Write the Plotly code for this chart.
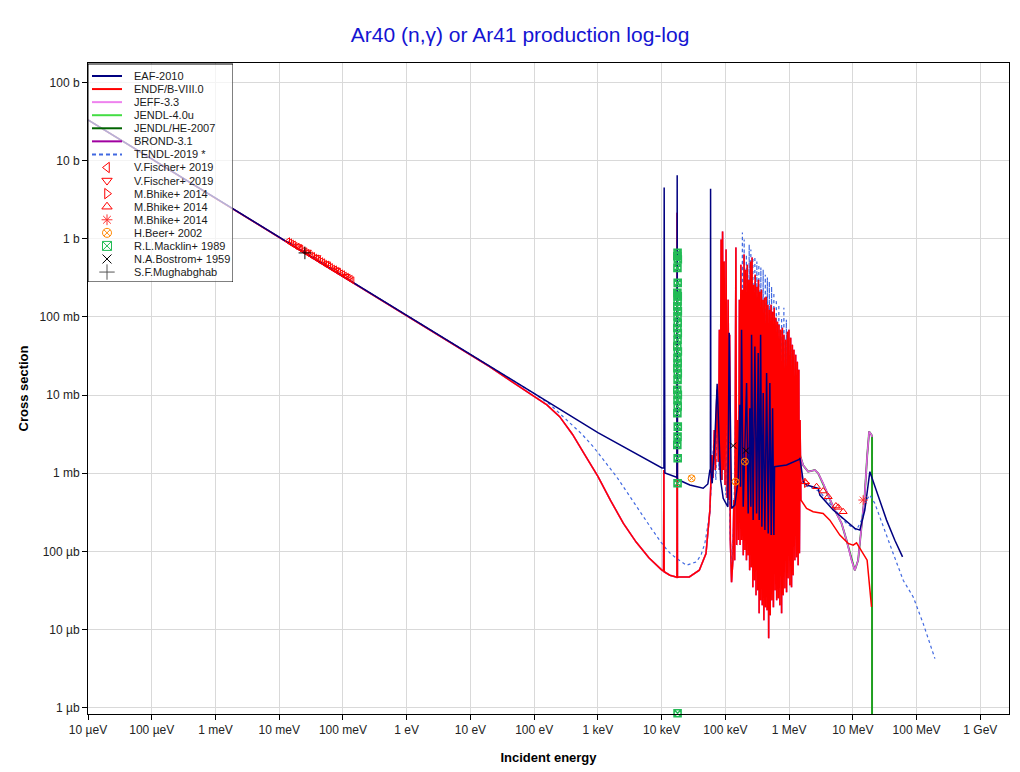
import plotly.graph_objects as go

# ---------------- data (log10 E [eV], log10 sigma [b]) ----------------
eaf_points = [
    (-5, 1.521), (3, -2.479), (4.004, -2.932), (4.036, -2.93), (4.040, 0.658), (4.044, -2.95),
    (4.051, -2.996), (4.224, -3.047), (4.240, -3.05), (4.244, 0.815), (4.248, -3.07), (4.271, -3.086),
    (4.443, -3.150), (4.652, -3.192), (4.725, -3.137), (4.757, -2.958), (4.765, -2.95), (4.768, 0.641),
    (4.772, -2.96), (4.793, -3.128), (4.835, -2.573), (4.871, -1.855), (4.898, -2.573), (4.925, -3.086),
    (4.966, -3.321), (5.039, -3.429), (5.060, -1.201), (5.098, -3.449), (5.149, -3.406), (5.201, -3.086),
    (5.227, -2.124), (5.238, -3.172), (5.254, -1.163), (5.280, -3.429), (5.333, -1.846), (5.358, -3.513),
    (5.384, -2.167), (5.400, -3.429), (5.411, -1.227), (5.436, -3.599), (5.463, -1.377), (5.490, -3.513),
    (5.515, -1.462), (5.531, -3.599), (5.553, -1.227), (5.573, -3.685), (5.594, -1.974), (5.620, -3.727),
    (5.647, -1.718), (5.672, -3.769), (5.698, -1.846), (5.719, -3.791), (5.741, -2.167), (5.761, -3.791),
    (5.772, -2.915), (5.960, -2.894), (6.158, -2.821), (6.169, -2.804), (6.222, -3.108), (6.275, -3.151),
    (6.457, -3.192), (6.483, -3.278), (6.692, -3.470), (6.902, -3.620), (7.031, -3.705), (7.110, -3.727),
    (7.188, -3.470), (7.267, -2.979), (7.372, -3.236), (7.529, -3.599), (7.659, -3.856), (7.780, -4.070),
]

endf_low = [
    (-5, 1.521), (1.0, -1.479), (1.3, -1.636), (1.568, -1.782), (1.8, -1.91), (2.0, -2.025),
    (2.2, -2.125), (2.4, -2.275), (2.6, -2.50), (2.8, -2.77), (3.0, -3.04), (3.2, -3.35), (3.4, -3.64),
    (3.6, -3.88), (3.8, -4.08), (3.999, -4.235),
    (4.030, -4.25), (4.035, -2.958), (4.040, -4.26), (4.129, -4.304), (4.234, -4.326), (4.240, -4.33),
    (4.244, 0.333), (4.248, -4.33), (4.277, -4.326), (4.434, -4.326), (4.591, -4.240), (4.696, -4.026),
]

endf_resonances = [
    (4.757, -3.471), (4.773, -2.958), (4.788, -2.765), (4.804, -3.060), (4.827, -2.445), (4.843, -2.958),
    (4.867, -1.932), (4.890, -2.855), (4.906, -1.163), (4.918, -2.958), (4.933, -0.009), (4.945, -3.086),
    (4.956, 0.094), (4.969, -2.958), (4.981, -0.291), (4.995, -3.150), (5.011, -0.137), (5.028, -3.317),
    (5.044, -0.778), (5.060, -3.342), (5.067, -1.227), (5.078, -3.855), (5.097, -4.394), (5.118, -4.112),
    (5.133, -3.342), (5.146, -4.112), (5.165, -0.112), (5.177, -3.919), (5.193, -2.317), (5.205, -3.855),
    (5.220, -0.778), (5.231, -3.919), (5.243, -0.330), (5.256, -3.855), (5.268, -0.650), (5.281, -4.048),
    (5.293, -0.201), (5.306, -3.983), (5.318, -0.394), (5.331, -4.112), (5.344, -0.330), (5.356, -4.048),
    (5.369, -0.522), (5.381, -4.240), (5.394, -0.291), (5.406, -4.201), (5.419, -0.240), (5.431, -4.458),
    (5.444, -0.586), (5.456, -4.368), (5.469, -0.458), (5.481, -4.560), (5.494, -0.612), (5.507, -4.496),
    (5.519, -0.522), (5.530, -4.791), (5.541, -0.676), (5.554, -4.624), (5.566, -0.650), (5.579, -4.689),
    (5.591, -0.778), (5.604, -4.881), (5.616, -0.753), (5.629, -4.714), (5.642, -0.740), (5.654, -4.753),
    (5.667, -0.842), (5.679, -5.111), (5.692, -0.906), (5.704, -4.817), (5.717, -0.842), (5.729, -4.624),
    (5.742, -0.932), (5.754, -4.714), (5.767, -0.881), (5.780, -4.496), (5.792, -1.009), (5.805, -4.624),
    (5.817, -1.061), (5.830, -4.599), (5.842, -1.099), (5.855, -4.689), (5.867, -1.163), (5.882, -4.791),
    (5.894, -1.138), (5.907, -4.560), (5.919, -1.227), (5.933, -4.470), (5.946, -1.291), (5.960, -4.522),
    (5.973, -1.189), (5.985, -4.342), (5.998, -1.163), (6.012, -4.432), (6.024, -1.266), (6.038, -4.458),
    (6.051, -1.355), (6.063, -4.304), (6.076, -1.419), (6.090, -4.112), (6.103, -1.483), (6.117, -4.073),
    (6.129, -1.573), (6.142, -4.176), (6.153, -1.676), (6.162, -4.022), (6.172, -2.317), (6.185, -3.342),
]

endf_high = [
    (6.274, -3.449), (6.377, -3.492), (6.534, -3.513), (6.639, -3.599), (6.796, -3.791), (6.926, -3.897),
    (7.005, -3.919), (7.058, -3.890), (7.110, -3.962), (7.188, -4.069), (7.224, -4.112), (7.293, -4.710),
]

jeff_high = [
    (6.169, -2.765), (6.222, -2.90), (6.299, -2.979), (6.404, -2.958), (6.456, -3.000), (6.534, -3.128),
    (6.588, -3.236), (6.691, -3.428), (6.823, -3.641), (6.901, -3.855), (6.980, -4.112), (7.031, -4.240),
    (7.083, -4.112), (7.136, -3.685), (7.188, -3.256), (7.224, -2.787), (7.256, -2.467), (7.293, -2.509),
    (7.301, -2.535),
]

jendl_end = [(7.3012, -10.0)]

tendl_points = [
    (-5, 1.521), (2.0, -1.979), (2.25, -2.12), (2.510, -2.317), (2.75, -2.50), (2.926, -2.659),
    (3.1, -2.84), (3.293, -3.044), (3.48, -3.27), (3.659, -3.49), (3.85, -3.72), (4.024, -3.92),
    (4.13, -4.02), (4.235, -4.090), (4.391, -4.176), (4.548, -4.133), (4.62, -4.04), (4.678, -3.897),
    (4.757, -3.509), (4.788, -2.958), (4.820, -2.573), (4.851, -3.086), (4.875, -2.060), (4.898, -2.958),
    (4.929, -0.778), (4.953, -3.086), (4.977, -0.778), (5.008, -3.278), (5.039, -1.291), (5.071, -3.727),
    (5.102, -4.240), (5.133, -3.599), (5.165, -2.060), (5.196, -3.727), (5.227, -1.419), (5.251, -3.727),
    (5.267, 0.081), (5.283, -3.727), (5.295, -0.009), (5.311, -3.727), (5.330, -0.201), (5.345, -3.855),
    (5.374, -0.073), (5.389, -3.855), (5.400, -0.137), (5.416, -3.855), (5.431, -0.240), (5.447, -3.919),
    (5.463, -0.227), (5.478, -3.919), (5.494, -0.291), (5.510, -3.983), (5.525, -0.330), (5.541, -3.983),
    (5.557, -0.368), (5.573, -4.048), (5.593, -0.394), (5.609, -4.048), (5.627, -0.458), (5.643, -4.112),
    (5.659, -0.496), (5.675, -4.112), (5.690, -0.548), (5.706, -4.112), (5.725, -0.612), (5.741, -4.112),
    (5.761, -0.689), (5.776, -4.112), (5.800, -0.778), (5.816, -4.112), (5.839, -0.842), (5.855, -4.112),
    (5.882, -1.009), (5.898, -4.112), (5.918, -0.881), (5.933, -4.112), (5.957, -1.035), (5.973, -4.112),
    (5.996, -1.291), (6.012, -4.048), (6.035, -1.419), (6.051, -3.983), (6.075, -1.547), (6.090, -3.855),
    (6.122, -1.804), (6.137, -3.727), (6.169, -2.855),
    (6.222, -3.150), (6.379, -3.192), (6.482, -3.236), (6.639, -3.385), (6.901, -3.641), (7.058, -3.727),
    (7.136, -3.599), (7.215, -3.342), (7.267, -3.278), (7.345, -3.385), (7.476, -3.685), (7.633, -4.026),
    (7.790, -4.368), (7.947, -4.582), (8.104, -4.923), (8.288, -5.372),
]

fischer_left = [
    (-1.862, -0.030), (-1.830, -0.045), (-1.801, -0.061), (-1.772, -0.072), (-1.745, -0.091), (-1.712, -0.100),
    (-1.680, -0.121), (-1.655, -0.128), (-1.622, -0.150), (-1.590, -0.160), (-1.561, -0.180), (-1.528, -0.193),
    (-1.497, -0.212), (-1.470, -0.219), (-1.436, -0.240), (-1.405, -0.251), (-1.377, -0.272), (-1.342, -0.286),
    (-1.311, -0.300), (-1.283, -0.320), (-1.250, -0.330), (-1.218, -0.350), (-1.190, -0.361), (-1.158, -0.381),
    (-1.126, -0.390), (-1.097, -0.410), (-1.064, -0.422), (-1.033, -0.441), (-1.001, -0.452), (-0.972, -0.471),
    (-0.940, -0.485), (-0.911, -0.500), (-0.880, -0.512), (-0.853, -0.530),
]
fischer_down = [(-1.70, -0.095), (-1.55, -0.165), (-1.40, -0.235), (-1.25, -0.315), (-1.10, -0.395), (-0.95, -0.475)]
bhike_right = [(6.27, -3.13)]
bhike_up = [(6.249, -3.108), (6.431, -3.172), (6.534, -3.227), (6.613, -3.300), (6.734, -3.419),
            (6.770, -3.436), (6.848, -3.492)]
bhike_star = [(7.162, -3.342)]
beer = [(4.470, -3.064), (5.160, -3.108), (5.306, -2.851)]
macklin = [
    (4.250, -0.179), (4.246, -0.223), (4.254, -0.265), (4.248, -0.372), (4.252, -0.564), (4.247, -0.692),
    (4.253, -0.736), (4.250, -0.800), (4.246, -0.864), (4.254, -0.928), (4.249, -0.992), (4.252, -1.077),
    (4.247, -1.141), (4.253, -1.205), (4.250, -1.291), (4.246, -1.377), (4.254, -1.441), (4.249, -1.526),
    (4.252, -1.590), (4.247, -1.654), (4.253, -1.718), (4.250, -1.804), (4.246, -1.932), (4.254, -1.996),
    (4.249, -2.060), (4.252, -2.146), (4.247, -2.231), (4.253, -2.403), (4.250, -2.531), (4.246, -2.637),
    (4.252, -2.808), (4.250, -3.128), (4.250, -6.07),
]
bostrom = [(5.122, -2.646), (5.322, -2.710)]
mughabghab = [(-1.597, -0.180)]

x_tickvals = [1e-5, 1e-4, 1e-3, 1e-2, 1e-1, 1, 10, 100, 1e3, 1e4, 1e5, 1e6, 1e7, 1e8, 1e9]
x_ticktext = ["10 µeV", "100 µeV", "1 meV", "10 meV", "100 meV", "1 eV", "10 eV", "100 eV",
              "1 keV", "10 keV", "100 keV", "1 MeV", "10 MeV", "100 MeV", "1 GeV"]
y_tickvals = [1e-6, 1e-5, 1e-4, 1e-3, 1e-2, 1e-1, 1, 10, 100]
y_ticktext = ["1 µb", "10 µb", "100 µb", "1 mb", "10 mb", "100 mb", "1 b", "10 b", "100 b"]

# legend entries: (label, kind, colour, style)
legend_entries = [
    ("EAF-2010", "line", "#000080", "solid"),
    ("ENDF/B-VIII.0", "line", "#ff0000", "solid"),
    ("JEFF-3.3", "line", "#ee82ee", "solid"),
    ("JENDL-4.0u", "line", "#44dd44", "solid"),
    ("JENDL/HE-2007", "line", "#006400", "solid"),
    ("BROND-3.1", "line", "#a000a0", "solid"),
    ("TENDL-2019 *", "line", "#4169e1", "dash"),
    ("V.Fischer+ 2019", "marker", "#ff0000", "triangle-left-open"),
    ("V.Fischer+ 2019", "marker", "#ff0000", "triangle-down-open"),
    ("M.Bhike+ 2014", "marker", "#ff0000", "triangle-right-open"),
    ("M.Bhike+ 2014", "marker", "#ff0000", "triangle-up-open"),
    ("M.Bhike+ 2014", "marker", "#ff3030", "asterisk-open"),
    ("H.Beer+ 2002", "marker", "#ff8800", "circle-x-open"),
    ("R.L.Macklin+ 1989", "marker", "#22bb55", "square-x-open"),
    ("N.A.Bostrom+ 1959", "marker", "#000000", "x-thin-open"),
    ("S.F.Mughabghab", "marker", "#555555", "cross-thin-open"),
]


def unzip(points):
    return [10 ** p[0] for p in points], [10 ** p[1] for p in points]


FONT = "Liberation Sans, Arial, sans-serif"
fig = go.Figure()


def add_line(points, name, color, width=1.5, dash="solid", opacity=1.0):
    x, y = unzip(points)
    fig.add_trace(go.Scatter(x=x, y=y, mode="lines", name=name, showlegend=False, opacity=opacity,
                             line=dict(color=color, width=width, dash=dash)))


def add_marks(points, name, symbol, color, size=7, cliponaxis=True, lw=1):
    x, y = unzip(points)
    fig.add_trace(go.Scatter(x=x, y=y, mode="markers", name=name, showlegend=False, cliponaxis=cliponaxis,
                             marker=dict(symbol=symbol, size=size, color=color, line=dict(color=color, width=lw))))


jeff_full = endf_low + endf_resonances + jeff_high
add_line(jeff_high + jendl_end, "JENDL-4.0u", "#44dd44", width=2)
add_line(jeff_high + jendl_end, "JENDL/HE-2007", "#006400", width=1)
add_line(jeff_full, "BROND-3.1", "#a000a0")
add_line(jeff_full, "JEFF-3.3", "#ee82ee", opacity=0.8)
add_line(tendl_points, "TENDL-2019 *", "#4169e1", dash="3px,3px", width=1.2)
add_line(endf_low + endf_resonances + endf_high, "ENDF/B-VIII.0", "#ff0000")
add_line(eaf_points, "EAF-2010", "#000080")

add_marks(fischer_left, "V.Fischer+ 2019", "triangle-left-open", "#ff0000", size=6)
add_marks(fischer_down, "V.Fischer+ 2019", "triangle-down-open", "#ff0000", size=6)
add_marks(bhike_right, "M.Bhike+ 2014", "triangle-right-open", "#ff0000")
add_marks(bhike_up, "M.Bhike+ 2014", "triangle-up-open", "#ff0000")
add_marks(bhike_star, "M.Bhike+ 2014", "asterisk-open", "#ff3030", size=8)
add_marks(beer, "H.Beer+ 2002", "circle-x-open", "#ff8800")
add_marks(macklin, "R.L.Macklin+ 1989", "square-x-open", "#22bb55", size=7, cliponaxis=False, lw=1.6)
add_marks(bostrom, "N.A.Bostrom+ 1959", "x-thin-open", "#000000", size=6)
add_marks(mughabghab, "S.F.Mughabghab", "cross-thin-open", "#000000", size=9)

# ---------------- legend panel (drawn on its own small axes, in the reference's pixel frame) ----------------
LEG_X0, LEG_X1, LEG_Y0, LEG_Y1 = 88, 233, 63, 282
fig.add_trace(go.Scatter(x=[LEG_X0, LEG_X1, LEG_X1, LEG_X0, LEG_X0], y=[LEG_Y1, LEG_Y1, LEG_Y0 + 1, LEG_Y0 + 1, LEG_Y1],
                         mode="lines", fill="toself", fillcolor="rgba(255,255,255,0.7)",
                         line=dict(color="#000000", width=1), xaxis="x2", yaxis="y2",
                         showlegend=False, hoverinfo="skip", cliponaxis=False))
annotations = []
for i, (label, kind, color, style) in enumerate(legend_entries):
    cy = 76 + 13.07 * i
    if kind == "line":
        fig.add_trace(go.Scatter(x=[92, 122], y=[cy, cy], mode="lines", xaxis="x2", yaxis="y2",
                                 line=dict(color=color, width=2, dash="4px,3px" if style == "dash" else "solid"),
                                 showlegend=False, hoverinfo="skip"))
    else:
        fig.add_trace(go.Scatter(x=[107], y=[cy], mode="markers", xaxis="x2", yaxis="y2",
                                 marker=dict(symbol=style, size=9 if "cross" not in style else 11, color=color,
                                             line=dict(color=color, width=1)),
                                 showlegend=False, hoverinfo="skip", cliponaxis=False))
    annotations.append(dict(x=132, y=cy, xref="x2", yref="y2", text=label, showarrow=False, xanchor="left",
                            yanchor="middle", font=dict(family=FONT, size=11, color="#1a1a1a")))

axis_common = dict(type="log", showline=True, linecolor="#000000", linewidth=1, mirror=True,
                   ticks="outside", ticklen=5, tickcolor="#000000", showgrid=True, gridcolor="#d9d9d9",
                   gridwidth=1, zeroline=False, tickfont=dict(family=FONT, size=12, color="#222222"))

fig.update_layout(
    xaxis=dict(range=[-5, 9.45], tickvals=x_tickvals, ticktext=x_ticktext, domain=[0, 1],
               title=dict(text="<b>Incident energy</b>", font=dict(family=FONT, size=13, color="#000"), standoff=16),
               **axis_common),
    yaxis=dict(range=[-6.08, 2.25], tickvals=y_tickvals, ticktext=y_ticktext, domain=[0, 1],
               title=dict(text="<b>Cross section</b>", font=dict(family=FONT, size=13, color="#000"), standoff=8),
               **axis_common),
    xaxis2=dict(domain=[0, (LEG_X1 - 88) / 921], range=[LEG_X0, LEG_X1], visible=False, anchor="y2",
                fixedrange=True),
    yaxis2=dict(domain=[1 - (LEG_Y1 - 63) / 651, 1], range=[LEG_Y1, LEG_Y0], visible=False, anchor="x2",
                fixedrange=True),
    width=1012, height=764,
    margin=dict(l=80, r=11, t=55, b=58, autoexpand=False),
    paper_bgcolor="#ffffff", plot_bgcolor="rgba(0,0,0,0)",
    title=dict(text="Ar40 (n,γ) or Ar41 production log-log", font=dict(family=FONT, size=21, color="#1414d2"),
               x=0.506, xref="container", xanchor="center", y=1 - 27 / 764, yref="container", yanchor="middle"),
    showlegend=False,
    annotations=annotations,
)

fig.write_html("out.html")
